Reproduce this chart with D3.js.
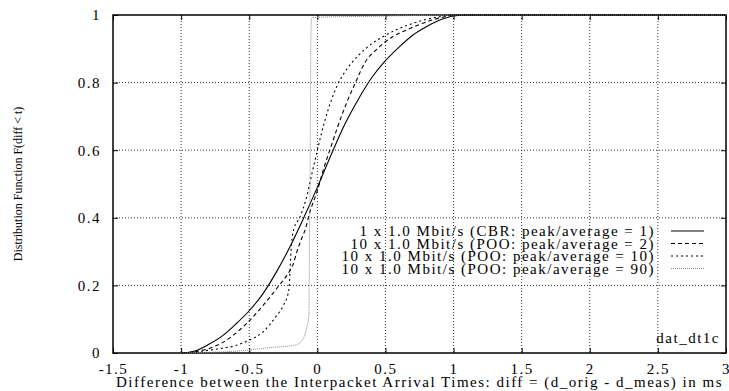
<!DOCTYPE html>
<html>
<head>
<meta charset="utf-8">
<script src="https://cdn.jsdelivr.net/npm/d3@7"></script>
<style>
  body { margin: 0; background: #fff; }
  svg text { font-family: 'Liberation Serif', 'Times New Roman', Times, 'DejaVu Serif', serif; fill: #000; }
</style>
</head>
<body>
<svg id="chart" width="729" height="391"></svg>
<script>
// values
let xTicks = [-1.5, -1, -0.5, 0, 0.5, 1, 1.5, 2, 2.5, 3]
let yTicks = [0, 0.2, 0.4, 0.6, 0.8, 1]

let cbrX = [-1, -0.9, -0.8, -0.7, -0.6, -0.5, -0.4, -0.3, -0.2, -0.1, 0, 0.1, 0.2, 0.3, 0.4, 0.5, 0.6, 0.7, 0.8, 0.9, 1.0, 1.1, 3]
let cbrY = [0, 0.006, 0.025, 0.05, 0.085, 0.125, 0.175, 0.24, 0.315, 0.4, 0.49, 0.585, 0.675, 0.75, 0.815, 0.865, 0.905, 0.94, 0.965, 0.985, 0.997, 1, 1]

let poo2X = [-1, -0.93, -0.8, -0.7, -0.6, -0.5, -0.4, -0.3, -0.2, -0.18, -0.15, -0.12, -0.085, -0.06, 0, 0.05, 0.1, 0.15, 0.22, 0.28, 0.35, 0.44, 0.55, 0.65, 0.75, 0.85, 0.95, 1.0, 3]
let poo2Y = [0, 0.002, 0.013, 0.03, 0.058, 0.095, 0.14, 0.19, 0.245, 0.26, 0.3, 0.334, 0.37, 0.41, 0.48, 0.55, 0.61, 0.67, 0.745, 0.8, 0.86, 0.9, 0.935, 0.955, 0.972, 0.986, 0.996, 1, 1]

let poo10X = [-1, -0.9, -0.8, -0.7, -0.6, -0.5, -0.4, -0.3, -0.25, -0.21, -0.19, -0.17, -0.13, -0.08, -0.04, 0, 0.05, 0.1, 0.15, 0.2, 0.3, 0.4, 0.5, 0.6, 0.7, 0.8, 0.9, 1.0, 3]
let poo10Y = [0, 0.003, 0.008, 0.014, 0.022, 0.038, 0.062, 0.11, 0.14, 0.185, 0.32, 0.37, 0.4, 0.46, 0.53, 0.6, 0.68, 0.745, 0.795, 0.83, 0.88, 0.915, 0.94, 0.96, 0.975, 0.987, 0.995, 1, 1]

let poo90X = [-1, -0.8, -0.65, -0.5, -0.35, -0.2, -0.15, -0.1, -0.075, -0.062, -0.058, -0.052, -0.048, -0.044, -0.035, 0.2, 0.5, 0.8, 1.0, 3]
let poo90Y = [0, 0.002, 0.004, 0.009, 0.016, 0.021, 0.025, 0.045, 0.08, 0.11, 0.3, 0.6, 0.9, 0.985, 0.993, 0.995, 0.997, 0.999, 1, 1]

let seriesNames = [
  '1 x 1.0 Mbit/s (CBR: peak/average = 1)',
  '10 x 1.0 Mbit/s (POO: peak/average = 2)',
  '10 x 1.0 Mbit/s (POO: peak/average = 10)',
  '10 x 1.0 Mbit/s (POO: peak/average = 90)',
]
let seriesX = [cbrX, poo2X, poo10X, poo90X]
let seriesY = [cbrY, poo2Y, poo10Y, poo90Y]

// line styles, gnuplot-ish
const STYLES = [
  { stroke: '#000', dash: null, width: 1.1 },
  { stroke: '#000', dash: '4,3', width: 1.1 },
  { stroke: '#000', dash: '2,3', width: 1.1 },
  { stroke: '#888', dash: '1,1', width: 1 },
]

const M = { left: 113, right: 726, top: 15, bottom: 353 }
const FONT = "'Liberation Serif', 'Times New Roman', Times, serif"
const SPACING = '1.5px'

let svg = d3.select('#chart')
let x = d3.scaleLinear().domain([-1.5, 3]).range([M.left, M.right])
let y = d3.scaleLinear().domain([0, 1]).range([M.bottom, M.top])
let fmt = d => String(d)

// grid
let grid = svg.append('g').attr('class', 'grid')
grid.selectAll('line.gx')
  .data(xTicks.slice(1, -1))
  .enter().append('line')
  .attr('x1', d => x(d)).attr('x2', d => x(d))
  .attr('y1', M.top).attr('y2', M.bottom)
grid.selectAll('line.gy')
  .data(yTicks.slice(1, -1))
  .enter().append('line')
  .attr('y1', d => y(d)).attr('y2', d => y(d))
  .attr('x1', M.left).attr('x2', M.right)
grid.selectAll('line')
  .attr('stroke', '#000')
  .attr('stroke-width', 0.8)
  .attr('stroke-dasharray', '1,2')

// axes with inward ticks (mirrored on top/right)
let axB = svg.append('g').attr('transform', `translate(0,${M.bottom})`)
  .call(d3.axisBottom(x).tickValues(xTicks).tickFormat(fmt).tickSize(-5).tickPadding(10))
let axT = svg.append('g').attr('transform', `translate(0,${M.top})`)
  .call(d3.axisTop(x).tickValues(xTicks).tickFormat('').tickSize(-5))
let axL = svg.append('g').attr('transform', `translate(${M.left},0)`)
  .call(d3.axisLeft(y).tickValues(yTicks).tickFormat(fmt).tickSize(-5).tickPadding(12))
let axR = svg.append('g').attr('transform', `translate(${M.right},0)`)
  .call(d3.axisRight(y).tickValues(yTicks).tickFormat('').tickSize(-5))

;[axB, axT, axL, axR].forEach(a => {
  a.attr('font-family', FONT).attr('font-size', 15)
  a.select('.domain').remove()
  a.selectAll('.tick line').attr('stroke', '#000').attr('stroke-width', 1)
  a.selectAll('.tick text')
    .style('font-family', FONT)
    .style('font-size', '15px')
    .style('letter-spacing', SPACING)
    .attr('fill', '#000')
})

// border
svg.append('rect')
  .attr('x', M.left).attr('y', M.top)
  .attr('width', M.right - M.left).attr('height', M.bottom - M.top)
  .attr('fill', 'none')
  .attr('stroke', '#000')
  .attr('stroke-width', 1.5)

// curves
let line = d3.line().x(d => x(d[0])).y(d => y(d[1])).curve(d3.curveMonotoneX)
let plot = svg.append('g').attr('class', 'curves')
seriesX.forEach((xs, i) => {
  let pts = xs.map((v, j) => [v, seriesY[i][j]])
  plot.append('path')
    .datum(pts)
    .attr('d', line)
    .attr('fill', 'none')
    .attr('stroke', STYLES[i].stroke)
    .attr('stroke-width', STYLES[i].width)
    .attr('stroke-dasharray', STYLES[i].dash)
})

// legend
let legendY = [231, 243.5, 256, 268.5]
let legend = svg.append('g').attr('class', 'legend')
seriesNames.forEach((name, i) => {
  legend.append('text')
    .attr('x', 655)
    .attr('y', legendY[i])
    .attr('dy', '0.35em')
    .attr('text-anchor', 'end')
    .style('font-size', '15px')
    .style('letter-spacing', SPACING)
    .text(name)
  legend.append('line')
    .attr('x1', 671).attr('x2', 704)
    .attr('y1', legendY[i]).attr('y2', legendY[i])
    .attr('stroke', STYLES[i].stroke)
    .attr('stroke-width', STYLES[i].width)
    .attr('stroke-dasharray', STYLES[i].dash)
})

// data file label
svg.append('text')
  .attr('x', 720).attr('y', 338)
  .attr('dy', '0.35em')
  .attr('text-anchor', 'end')
  .style('font-size', '15px')
  .style('letter-spacing', SPACING)
  .text('dat_dt1c')

// axis titles
svg.append('text')
  .attr('x', (M.left + M.right) / 2).attr('y', 382)
  .attr('dy', '0.35em')
  .attr('text-anchor', 'middle')
  .style('font-size', '15px')
  .style('letter-spacing', SPACING)
  .text('Difference between the Interpacket Arrival Times: diff = (d_orig - d_meas) in ms')

svg.append('text')
  .attr('transform', `translate(18,${(M.top + M.bottom) / 2}) rotate(-90)`)
  .attr('dy', '0.35em')
  .attr('text-anchor', 'middle')
  .style('font-size', '12px')
  .text('Distribution Function F(diff < t)')
</script>
</body>
</html>
